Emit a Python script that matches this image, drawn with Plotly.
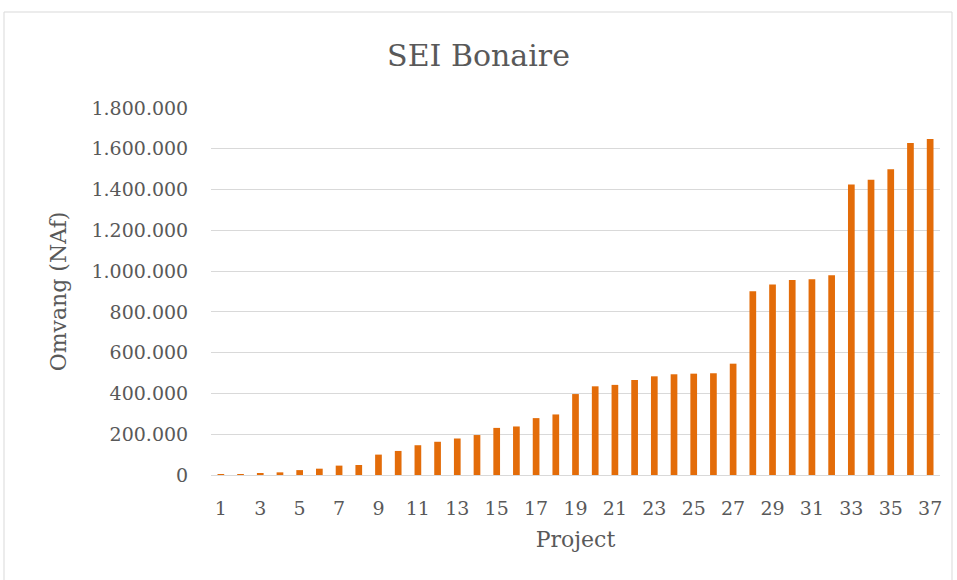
import plotly.graph_objects as go

projects = [str(i) for i in range(1, 38)]
omvang = [3000, 4000, 5000, 13000, 24000, 31000, 46000, 49000, 100000, 118000,
          146000, 163000, 179000, 196000, 231000, 238000, 279000, 297000, 397000, 435000,
          442000, 466000, 484000, 494000, 497000, 499000, 546000, 901000, 934000, 956000,
          960000, 980000, 1425000, 1448000, 1500000, 1628000, 1648000]
xtick_labels = [str(i) for i in range(1, 38, 2)]
ytick_vals = list(range(0, 1800001, 200000))

FONT = "DejaVu Serif"
TXT = "#595959"
GRID = "#D9D9D9"

fig = go.Figure(go.Bar(x=projects, y=omvang, marker_color="#E36C09",
                       marker_line_width=0))

L, R, T, B = 211, 17, 108, 105
W, H = 957, 580
pw, ph = W - L - R, H - T - B

fig.update_layout(
    width=W, height=H,
    margin=dict(l=L, r=R, t=T, b=B, pad=0),
    paper_bgcolor="white", plot_bgcolor="white",
    separators=",.",
    bargap=0.66,
    showlegend=False,
    title=dict(text="SEI Bonaire", x=0.5, xanchor="center", y=1 - 55 / H, yanchor="middle",
               font=dict(family=FONT, size=30, color=TXT)),
    font=dict(family=FONT, color=TXT),
    xaxis=dict(type="category", tickmode="array", tickvals=xtick_labels, ticktext=xtick_labels,
               tickfont=dict(size=19, color=TXT), showgrid=False, showline=False,
               ticks="outside", ticklen=16, tickcolor="rgba(0,0,0,0)",
               title=dict(text="Project", font=dict(size=22, color=TXT), standoff=13)),
    yaxis=dict(range=[0, 1800000], tickvals=ytick_vals, tickformat=",d",
               tickfont=dict(size=19, color=TXT), gridcolor=GRID, gridwidth=1.3,
               zeroline=True, zerolinecolor=GRID, zerolinewidth=1.3,
               ticks="outside", ticklen=18, tickcolor="rgba(0,0,0,0)",
               title=dict(text="Omvang (NAf)", font=dict(size=22, color=TXT), standoff=18)),
    shapes=[dict(type="rect", xref="paper", yref="paper",
                 x0=(4 - L) / pw, x1=(952 - L) / pw,
                 y0=-(B + 20) / ph, y1=(ph + (T - 12)) / ph,
                 line=dict(color=GRID, width=1), fillcolor="rgba(0,0,0,0)", layer="below")],
)

fig.write_html("out.html", config={"displayModeBar": False},
               post_script="document.body.style.margin='0px';")
